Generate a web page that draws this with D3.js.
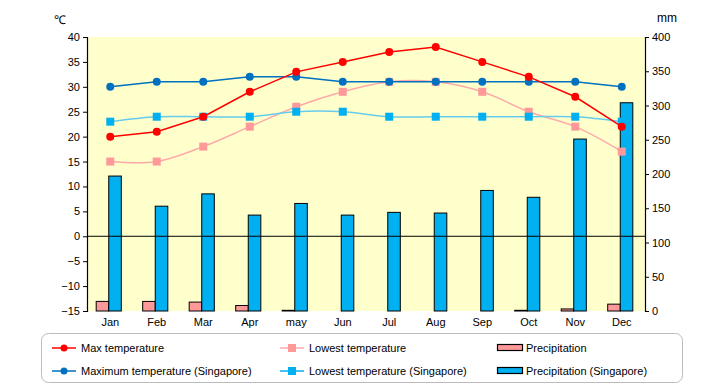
<!DOCTYPE html>
<html>
<head>
<meta charset="utf-8">
<script src="https://cdn.jsdelivr.net/npm/d3@7"></script>
<style>
  body { margin: 0; background: #fff; }
  svg { font-family: "Liberation Sans", Arial, sans-serif; }
</style>
</head>
<body>
<div id="chart"></div>
<script>
// DATA
const months = ["Jan", "Feb", "Mar", "Apr", "may", "Jun", "Jul", "Aug", "Sep", "Oct", "Nov", "Dec"];
const maxTemp = [20, 21, 24, 29, 33, 35, 37, 38, 35, 32, 28, 22];
const lowTemp = [15, 15, 18, 22, 26, 29, 31, 31, 29, 25, 22, 17];
const precip = [14, 14, 13, 8, 1, 0, 0, 0, 0, 1, 3, 10];
const maxTempSg = [30, 31, 31, 32, 32, 31, 31, 31, 31, 31, 31, 30];
const lowTempSg = [23, 24, 24, 24, 25, 25, 24, 24, 24, 24, 24, 23];
const precipSg = [197, 153, 171, 140, 157, 140, 144, 143, 176, 166, 251, 304];
const tempTicks = [-15, -10, -5, 0, 5, 10, 15, 20, 25, 30, 35, 40];
const precipTicks = [0, 50, 100, 150, 200, 250, 300, 350, 400];

// GRAPH CONSTANTS
const w = 720;
const h = 385;
const padLeft = 87, padRight = 645, padTop = 37, padBottom = 311;

const svg = d3.select('#chart')
    .append('svg')
    .attr('width', w)
    .attr('height', h);

// SCALES
const x = d3.scaleBand().domain(months).range([padLeft, padRight]);
const yT = d3.scaleLinear().domain([-15, 40]).range([padBottom, padTop]);
const yP = d3.scaleLinear().domain([0, 400]).range([padBottom, padTop]);
const cx = m => x(m) + x.bandwidth() / 2;
const barW = x.bandwidth() * 0.27;

// plot background
svg.append('rect')
    .attr('x', padLeft).attr('y', padTop)
    .attr('width', padRight - padLeft).attr('height', padBottom - padTop)
    .attr('fill', '#ffffcc');

// BARS
const bars = svg.append('g');
bars.append('g').selectAll('rect')
    .data(precip)
    .join('rect')
    .attr('x', (d, i) => cx(months[i]) - barW - 1.5)
    .attr('y', d => yP(d))
    .attr('width', barW)
    .attr('height', d => yP(0) - yP(d))
    .attr('fill', '#ff9999')
    .attr('stroke', d => d > 0 ? '#000' : 'none')
    .attr('stroke-width', 1);
bars.append('g').selectAll('rect')
    .data(precipSg)
    .join('rect')
    .attr('x', (d, i) => cx(months[i]) - 1.5)
    .attr('y', d => yP(d))
    .attr('width', barW)
    .attr('height', d => yP(0) - yP(d))
    .attr('fill', '#00b0f0')
    .attr('stroke', '#000')
    .attr('stroke-width', 1);

// zero line
svg.append('line')
    .attr('x1', padLeft).attr('x2', padRight)
    .attr('y1', yT(0)).attr('y2', yT(0))
    .attr('stroke', '#000');

// AXES
const axL = svg.append('g')
    .attr('transform', `translate(${padLeft},0)`)
    .call(d3.axisLeft(yT).tickValues(tempTicks).tickSize(4).tickFormat(d => d < 0 ? '\u2212' + (-d) : d));
const axR = svg.append('g')
    .attr('transform', `translate(${padRight},0)`)
    .call(d3.axisRight(yP).tickValues(precipTicks).tickSize(4));
const axB = svg.append('g')
    .attr('transform', `translate(0,${padBottom})`)
    .call(d3.axisBottom(x).tickSize(0).tickPadding(7));
[axL, axR, axB].forEach(a => {
    a.selectAll('path').attr('stroke', '#000').attr('stroke-width', 1.2);
    a.selectAll('line').attr('stroke', '#000');
    a.selectAll('text').attr('font-size', 11).attr('fill', '#000');
});
axB.select('path').remove();

svg.append('text').attr('x', 54).attr('y', 24).attr('font-size', 12).text('\u2103');
svg.append('text').attr('x', 657).attr('y', 22).attr('font-size', 12).text('mm');

// LINES
const series = [
    { values: lowTemp, line: '#ffaaaa', marker: '#ff9999', shape: 'square', smooth: true },
    { values: lowTempSg, line: '#66ccee', marker: '#00b0f0', shape: 'square', smooth: true },
    { values: maxTempSg, line: '#0070c0', marker: '#0070c0', shape: 'circle', smooth: false },
    { values: maxTemp, line: '#ff0000', marker: '#ff0000', shape: 'circle', smooth: false }
];
series.forEach(s => {
    const line = d3.line()
        .x((d, i) => cx(months[i]))
        .y(d => yT(d))
        .curve(s.smooth ? d3.curveCatmullRom.alpha(0.5) : d3.curveLinear);
    svg.append('path')
        .datum(s.values)
        .attr('d', line)
        .attr('fill', 'none')
        .attr('stroke', s.line)
        .attr('stroke-width', 1.5);
    if (s.shape === 'circle') {
        svg.append('g').selectAll('circle')
            .data(s.values)
            .join('circle')
            .attr('cx', (d, i) => cx(months[i]))
            .attr('cy', d => yT(d))
            .attr('r', 4)
            .attr('fill', s.marker);
    } else {
        svg.append('g').selectAll('rect')
            .data(s.values)
            .join('rect')
            .attr('x', (d, i) => cx(months[i]) - 4)
            .attr('y', d => yT(d) - 4)
            .attr('width', 8)
            .attr('height', 8)
            .attr('fill', s.marker);
    }
});

// LEGEND
const legend = svg.append('g');
legend.append('rect')
    .attr('x', 41.5).attr('y', 333.5)
    .attr('width', 641).attr('height', 49)
    .attr('rx', 7)
    .attr('fill', '#fff')
    .attr('stroke', '#bbbbbb');
const items = [
    { label: 'Max temperature', x: 52, y: 348, type: 'circle', color: '#ff0000' },
    { label: 'Lowest temperature', x: 280, y: 348, type: 'square', color: '#ffaaaa', marker: '#ff9999' },
    { label: 'Precipitation', x: 497, y: 348, type: 'bar', color: '#ff9999' },
    { label: 'Maximum temperature (Singapore)', x: 52, y: 371, type: 'circle', color: '#0070c0' },
    { label: 'Lowest temperature (Singapore)', x: 280, y: 371, type: 'square', color: '#00b0f0', marker: '#00b0f0' },
    { label: 'Precipitation (Singapore)', x: 497, y: 371, type: 'bar', color: '#00b0f0' }
];
items.forEach(it => {
    if (it.type === 'bar') {
        legend.append('rect')
            .attr('x', it.x + 0.5).attr('y', it.y - 3.5)
            .attr('width', 25).attr('height', 6)
            .attr('fill', it.color).attr('stroke', '#000').attr('stroke-width', 1.2);
    } else {
        legend.append('line')
            .attr('x1', it.x).attr('x2', it.x + 24)
            .attr('y1', it.y).attr('y2', it.y)
            .attr('stroke', it.color).attr('stroke-width', 1.5);
        if (it.type === 'circle') {
            legend.append('circle')
                .attr('cx', it.x + 12).attr('cy', it.y).attr('r', 3.5)
                .attr('fill', it.color);
        } else {
            legend.append('rect')
                .attr('x', it.x + 8).attr('y', it.y - 4)
                .attr('width', 8).attr('height', 8)
                .attr('fill', it.marker);
        }
    }
    legend.append('text')
        .attr('x', it.x + 29)
        .attr('y', it.y + 4)
        .attr('font-size', 11)
        .text(it.label);
});
</script>
</body>
</html>
